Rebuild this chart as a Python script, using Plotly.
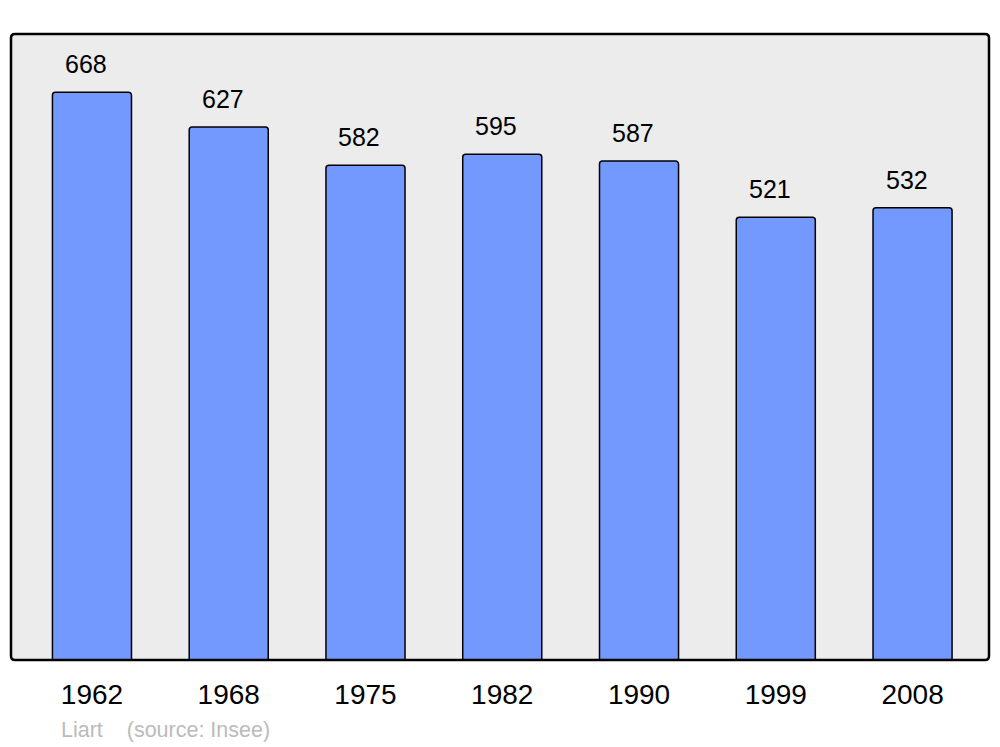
import plotly.graph_objects as go

years = ["1962", "1968", "1975", "1982", "1990", "1999", "2008"]
population = [668, 627, 582, 595, 587, 521, 532]
source_text = "Liart    (source: Insee)"

W, H = 1000, 747
L, R, T, B = 11, 11, 34, 87
pw, ph = W - L - R, H - T - B

xpos = list(range(len(years)))

fig = go.Figure()
fig.add_trace(go.Bar(
    x=xpos, y=population, width=0.578,
    marker=dict(color="#7399ff", line=dict(color="black", width=1.5), cornerradius=3),
    hoverinfo="skip",
))

for x, v in zip(xpos, population):
    fig.add_annotation(x=x, y=v, text=str(v), showarrow=False, yanchor="middle",
                       yshift=28, xshift=-6,
                       font=dict(size=25, color="black", family="Liberation Sans"))

fig.add_annotation(xref="paper", yref="paper", x=(59 - L) / pw, y=0, yanchor="middle",
                   xanchor="left", yshift=-70, text=source_text, showarrow=False,
                   font=dict(size=21.5, color="#bbbbbb", family="Liberation Sans"))

# rounded frame
r = 4
rx, ry = r / pw, r / ph
path = (f"M {rx},0 L {1-rx},0 Q 1,0 1,{ry} L 1,{1-ry} Q 1,1 {1-rx},1 "
        f"L {rx},1 Q 0,1 0,{1-ry} L 0,{ry} Q 0,0 {rx},0 Z")
fig.add_shape(type="path", xref="paper", yref="paper", path=path,
              line=dict(color="black", width=2.5), layer="above")

fig.update_layout(
    width=W, height=H,
    margin=dict(l=L, r=R, t=T, b=B, pad=0),
    paper_bgcolor="white", plot_bgcolor="#ececec",
    showlegend=False,
    font=dict(family="Liberation Sans", color="black"),
    xaxis=dict(range=[-0.592, 6.559], tickvals=xpos, ticktext=years, showgrid=False,
               zeroline=False, ticks="", tickfont=dict(size=28), ticklabelstandoff=15,
               fixedrange=True),
    yaxis=dict(range=[0, 736.5], showgrid=False, zeroline=False, showticklabels=False,
               fixedrange=True),
)

fig.write_html("out.html", config={"displayModeBar": False},
               post_script="document.body.style.margin='0';document.body.style.overflow='hidden';")
